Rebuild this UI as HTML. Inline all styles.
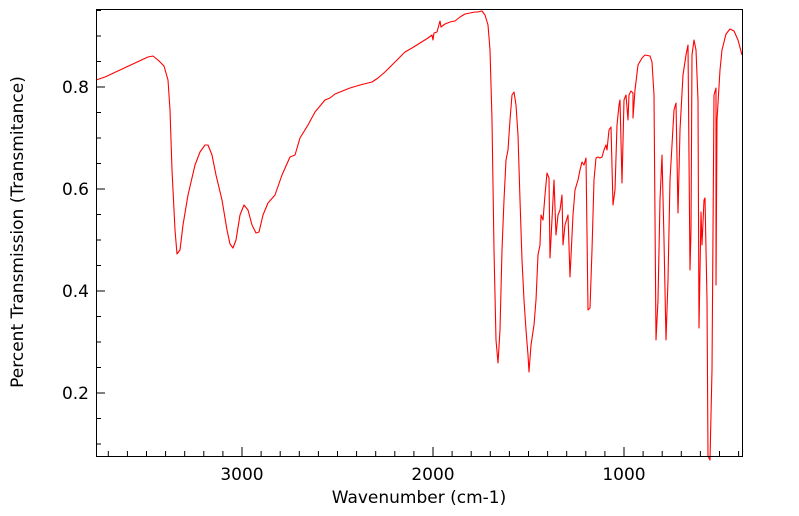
<!DOCTYPE html>
<html><head><style>body{margin:0;background:#fff}svg{display:block}</style></head><body>
<svg width="799" height="516" xmlns="http://www.w3.org/2000/svg" font-family="'DejaVu Sans','Liberation Sans',sans-serif">
<rect width="799" height="516" fill="#fff"/>
<polyline fill="none" stroke="#ff0000" stroke-width="1.1" stroke-linejoin="round" points="96,80 105,77 120,70 135,63 148,57 153,56 158,60 164,66 168,80 170,110 172,170 175,230 177,254 180,250 183,225 188,195 195,165 200,152 205,145 208,145 212,155 216,175 222,200 227,230 230,244 233,248 236,240 240,215 244,205 248,210 252,225 256,233 259,232 263,215 268,203 275,195 282,175 290,157 295,155 300,138 308,125 315,112 320,106 325,100 330,98 335,94 340,92 345,90 350,88 360,85 368,83 372,82 378,78 385,72 395,62 405,52 412,48 420,43 428,38 432,35 433,40 434,33 437,32 440,21 441,27 445,24 450,22 455,21 460,17 465,14 470,13 475,12 478,12 482,11 485,15 488,25 490,50 492,120 494,250 496,340 498,363 500,330 502,250 504,200 506,160 508,150 510,120 512,95 514,92 516,105 518,135 520,200 522,260 524,300 526,330 528,355 529,372 531,345 534,325 536,300 538,255 540,245 541,215 543,220 545,195 547,173 549,178 550,258 553,200 554,180 556,235 558,215 560,210 562,195 563,245 565,225 568,215 570,277 573,215 575,190 578,180 580,170 582,162 584,165 586,158 588,310 590,308 592,250 594,180 596,158 598,157 600,158 602,157 604,150 606,145 607,150 609,130 611,127 613,205 615,190 617,125 619,105 620,100 622,183 624,100 626,95 628,120 629,95 631,91 633,93 633,118 635,90 638,65 642,58 645,55 650,56 652,62 654,95 656,340 658,300 660,200 662,155 664,240 666,340 668,280 670,180 672,145 674,110 676,103 678,213 680,130 683,75 686,55 688,45 690,270 691,230 692,55 694,40 696,50 698,100 699,328 701,212 702,245 704,200 705,198 707,300 708,456 710,460 712,370 714,95 716,88 716,285 717,120 720,70 722,50 726,34 730,29 734,31 738,40 742,55"/>
<rect x="96.5" y="9.5" width="646" height="447" fill="none" stroke="#000" stroke-width="1"/>
<path stroke="#000" stroke-width="1" fill="none" d="
M108.3 456v-5M127.4 456v-5M146.5 456v-5M165.6 456v-5M184.7 456v-5M203.8 456v-5M222.9 456v-5M242 456v-9M261.1 456v-5M280.2 456v-5M299.3 456v-5M318.4 456v-5M337.5 456v-5M356.6 456v-5M375.7 456v-5M394.8 456v-5M413.9 456v-5M433 456v-9M452.1 456v-5M471.2 456v-5M490.3 456v-5M509.4 456v-5M528.5 456v-5M547.6 456v-5M566.7 456v-5M585.8 456v-5M604.9 456v-5M624 456v-9M643.1 456v-5M662.2 456v-5M681.3 456v-5M700.4 456v-5M719.5 456v-5M738.6 456v-5
M96 444h5M96 418.5h5M96 393h9M96 367.5h5M96 342h5M96 316.5h5M96 291h9M96 265.5h5M96 240h5M96 214.5h5M96 189h9M96 163.5h5M96 138h5M96 112.5h5M96 87h9M96 61.5h5M96 36h5M96 10.5h5"/>
<g font-size="17" fill="#000">
<text x="242" y="480" text-anchor="middle">3000</text>
<text x="433" y="480" text-anchor="middle">2000</text>
<text x="624" y="480" text-anchor="middle">1000</text>
<text x="89" y="93" text-anchor="end">0.8</text>
<text x="89" y="195" text-anchor="end">0.6</text>
<text x="89" y="297" text-anchor="end">0.4</text>
<text x="89" y="399" text-anchor="end">0.2</text>
<text x="419" y="503" text-anchor="middle">Wavenumber (cm-1)</text>
<text transform="translate(23,232) rotate(-90)" text-anchor="middle">Percent Transmission (Transmitance)</text>
</g>
</svg>
</body></html>
